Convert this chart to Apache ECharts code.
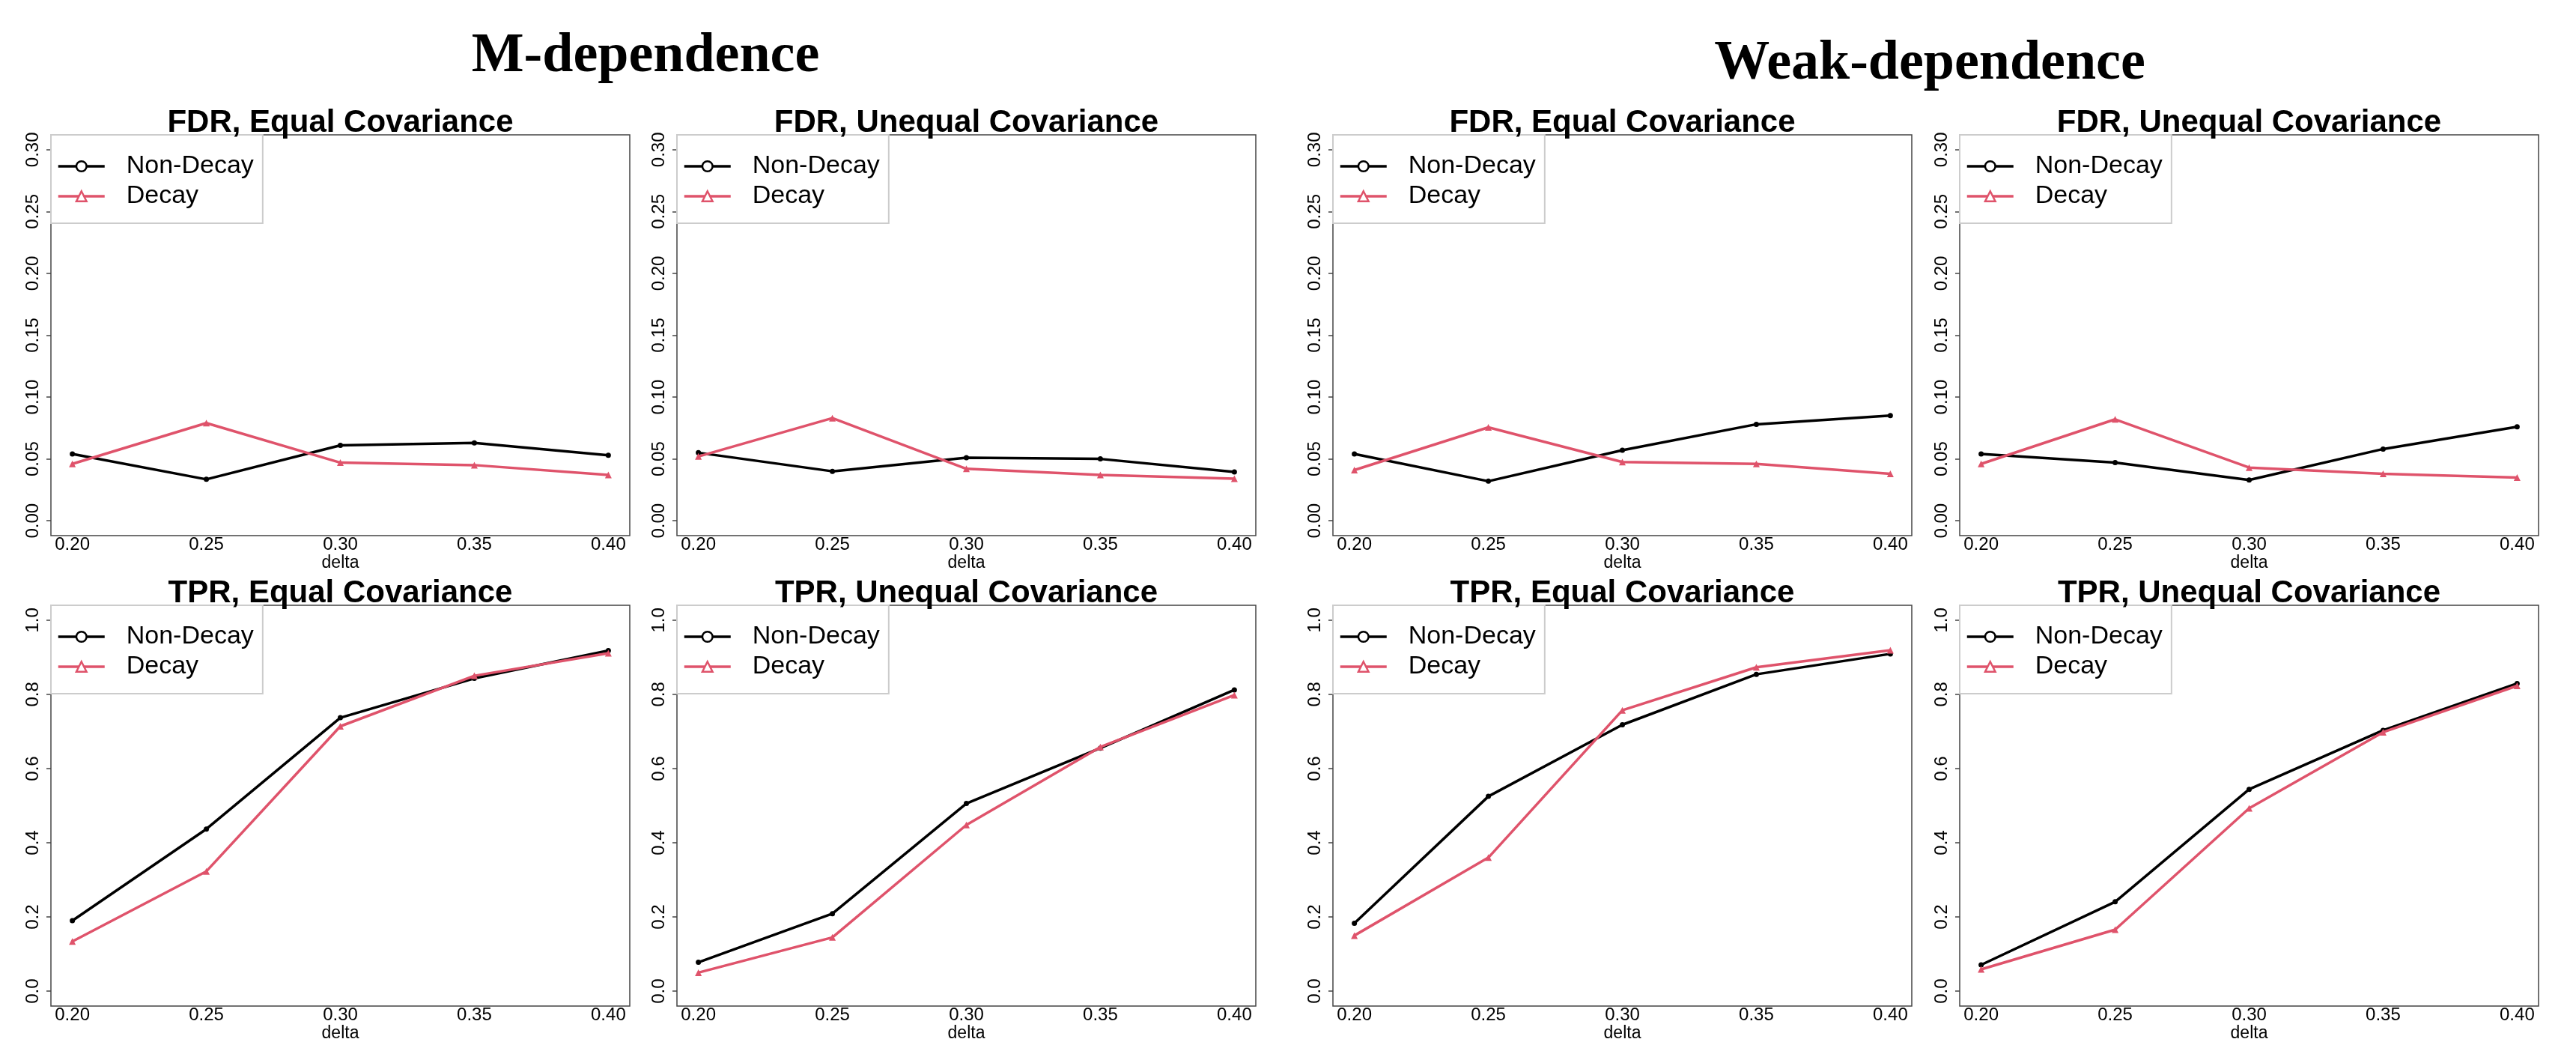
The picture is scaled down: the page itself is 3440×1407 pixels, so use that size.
<!DOCTYPE html>
<html>
<head>
<meta charset="utf-8">
<script src="https://cdn.jsdelivr.net/npm/echarts@6/dist/echarts.min.js"></script>
<style>
html,body{margin:0;padding:0;background:#fff;}
#chart{width:3440px;height:1407px;}
</style>
</head>
<body>
<div id="chart"></div>
<script>
// ---- data ----
const delta = [0.20, 0.25, 0.30, 0.35, 0.40];
const deltaTicks = [0.20, 0.25, 0.30, 0.35, 0.40];
const fdrTicks = [0, 0.05, 0.10, 0.15, 0.20, 0.25, 0.30];
const tprTicks = [0, 0.2, 0.4, 0.6, 0.8, 1.0];
const seriesNames = ['Non-Decay', 'Decay'];
const groupTitles = ['M-dependence', 'Weak-dependence'];
const panelTitles = ['FDR, Equal Covariance', 'FDR, Unequal Covariance', 'TPR, Equal Covariance', 'TPR, Unequal Covariance'];

// M-dependence
const mFdrEqualNonDecay   = [0.054, 0.0335, 0.061, 0.063, 0.053];
const mFdrEqualDecay      = [0.046, 0.079, 0.047, 0.045, 0.037];
const mFdrUnequalNonDecay = [0.055, 0.040, 0.051, 0.050, 0.0395];
const mFdrUnequalDecay    = [0.052, 0.083, 0.042, 0.037, 0.034];
const mTprEqualNonDecay   = [0.190, 0.437, 0.737, 0.843, 0.918];
const mTprEqualDecay      = [0.134, 0.323, 0.714, 0.850, 0.911];
const mTprUnequalNonDecay = [0.078, 0.209, 0.506, 0.655, 0.812];
const mTprUnequalDecay    = [0.050, 0.145, 0.448, 0.658, 0.798];
// Weak-dependence
const wFdrEqualNonDecay   = [0.054, 0.032, 0.057, 0.078, 0.085];
const wFdrEqualDecay      = [0.041, 0.0755, 0.0475, 0.046, 0.038];
const wFdrUnequalNonDecay = [0.054, 0.047, 0.033, 0.058, 0.076];
const wFdrUnequalDecay    = [0.046, 0.082, 0.043, 0.038, 0.035];
const wTprEqualNonDecay   = [0.183, 0.525, 0.718, 0.854, 0.909];
const wTprEqualDecay      = [0.150, 0.360, 0.757, 0.873, 0.919];
const wTprUnequalNonDecay = [0.071, 0.241, 0.544, 0.703, 0.829];
const wTprUnequalDecay    = [0.059, 0.166, 0.493, 0.698, 0.823];

// ---- layout ----
const colLeft = [68, 904, 1780, 2617];
const boxW = 773;
const rowTop = [180, 808];
const boxH = 535;
const BLACK = '#000000';
const PINK = '#DF536B';
const SANS = 'Liberation Sans';
const LW = 3.5;

const panels = [
  {col:0,row:0,title:panelTitles[0],kind:'fdr',a:mFdrEqualNonDecay,b:mFdrEqualDecay},
  {col:1,row:0,title:panelTitles[1],kind:'fdr',a:mFdrUnequalNonDecay,b:mFdrUnequalDecay},
  {col:2,row:0,title:panelTitles[0],kind:'fdr',a:wFdrEqualNonDecay,b:wFdrEqualDecay},
  {col:3,row:0,title:panelTitles[1],kind:'fdr',a:wFdrUnequalNonDecay,b:wFdrUnequalDecay},
  {col:0,row:1,title:panelTitles[2],kind:'tpr',a:mTprEqualNonDecay,b:mTprEqualDecay},
  {col:1,row:1,title:panelTitles[3],kind:'tpr',a:mTprUnequalNonDecay,b:mTprUnequalDecay},
  {col:2,row:1,title:panelTitles[2],kind:'tpr',a:wTprEqualNonDecay,b:wTprEqualDecay},
  {col:3,row:1,title:panelTitles[3],kind:'tpr',a:wTprUnequalNonDecay,b:wTprUnequalDecay}
];

const grids = [], xAxes = [], yAxes = [], series = [], legends = [];
const titles = [
  {text: groupTitles[0], left: 862, top: 76, padding: 0, textAlign: 'center', textVerticalAlign: 'middle',
   textStyle: {fontFamily: 'Liberation Serif', fontWeight: 'bold', fontSize: 74, color: '#000'}},
  {text: groupTitles[1], left: 2577, top: 86, padding: 0, textAlign: 'center', textVerticalAlign: 'middle',
   textStyle: {fontFamily: 'Liberation Serif', fontWeight: 'bold', fontSize: 74, color: '#000'}}
];

panels.forEach((p, i) => {
  const left = colLeft[p.col], top = rowTop[p.row];
  grids.push({left: left, top: top, width: boxW, height: boxH, show: true,
    borderColor: '#444', borderWidth: 1.5, backgroundColor: 'transparent'});
  titles.push({text: p.title, left: left + boxW / 2, top: top - 16, padding: 0,
    textAlign: 'center', textVerticalAlign: 'middle',
    textStyle: {fontFamily: SANS, fontWeight: 'bold', fontSize: 42, color: '#000'}});
  xAxes.push({type: 'value', gridIndex: i, min: 0.192, max: 0.408,
    axisLine: {show: false}, axisTick: {show: false}, splitLine: {show: false},
    axisLabel: {customValues: deltaTicks, formatter: v => v.toFixed(2), fontFamily: SANS,
      fontSize: 24, color: '#000', margin: 0},
    name: 'delta', nameLocation: 'middle', nameGap: 19,
    nameTextStyle: {fontFamily: SANS, fontSize: 23, color: '#000'}});
  const isF = p.kind === 'fdr';
  const ticks = isF ? fdrTicks : tprTicks;
  yAxes.push({type: 'value', gridIndex: i, min: isF ? -0.012 : -0.04, max: isF ? 0.312 : 1.04,
    axisLine: {show: false}, splitLine: {show: false},
    axisTick: {show: true, customValues: ticks, length: 6, lineStyle: {color: '#444', width: 1.5}},
    axisLabel: {customValues: ticks, rotate: 90, formatter: v => v.toFixed(isF ? 2 : 1),
      fontFamily: SANS, fontSize: 24, color: '#000', margin: 12}});
  series.push({name: seriesNames[0], type: 'line', xAxisIndex: i, yAxisIndex: i,
    data: delta.map((d, k) => [d, p.a[k]]), symbol: 'circle', symbolSize: 7,
    itemStyle: {color: BLACK}, lineStyle: {color: BLACK, width: LW}, z: 2});
  series.push({name: seriesNames[1], type: 'line', xAxisIndex: i, yAxisIndex: i,
    data: delta.map((d, k) => [d, p.b[k]]), symbol: 'triangle', symbolSize: 9,
    itemStyle: {color: PINK}, lineStyle: {color: PINK, width: LW}, z: 3});
  legends.push({left: left, top: top, orient: 'vertical', backgroundColor: '#fff',
    borderColor: '#cccccc', borderWidth: 2, borderRadius: 0, padding: [25, 12, 19, 8],
    itemWidth: 62, itemHeight: 17, itemGap: 6, selectedMode: false,
    lineStyle: {width: LW},
    textStyle: {fontFamily: SANS, fontSize: 34, color: '#000', padding: [0, 0, 0, 24]},
    data: [
      {name: seriesNames[0], itemStyle: {color: '#fff', borderColor: BLACK, borderWidth: 2.5}},
      {name: seriesNames[1], itemStyle: {color: '#fff', borderColor: PINK, borderWidth: 2.5}}
    ]});
});

const chart = echarts.init(document.getElementById('chart'), null, {renderer: 'canvas'});
chart.setOption({
  animation: false,
  backgroundColor: '#ffffff',
  title: titles,
  grid: grids,
  xAxis: xAxes,
  yAxis: yAxes,
  legend: legends,
  series: series
});
</script>
</body>
</html>
